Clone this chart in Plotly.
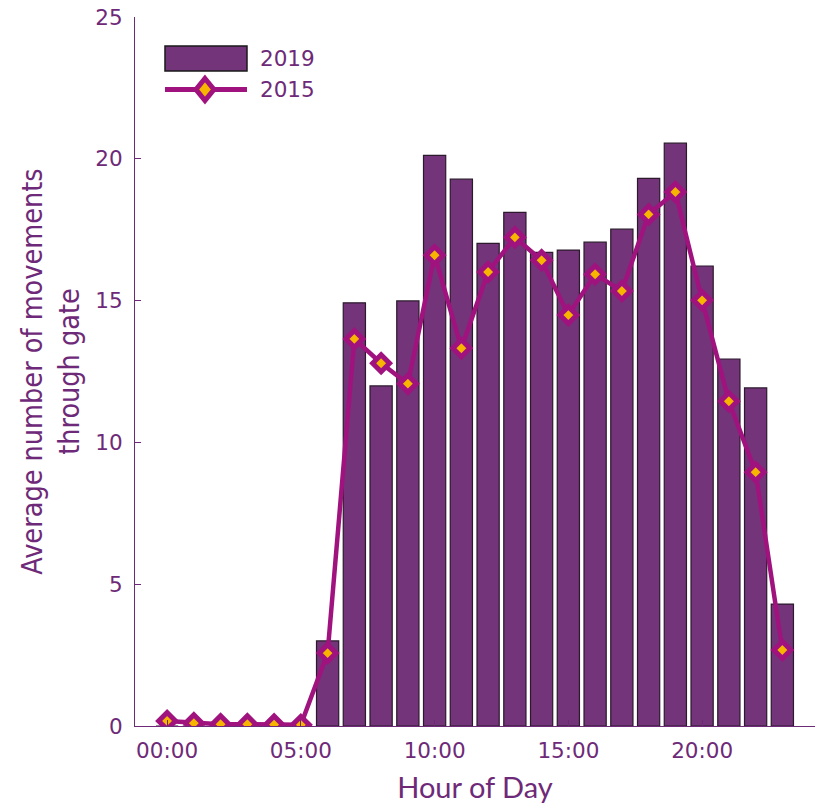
import plotly.graph_objects as go

hours = list(range(24))
tick_vals = [0, 5, 10, 15, 20]
tick_text = ["00:00", "05:00", "10:00", "15:00", "20:00"]

values_2019 = [0, 0, 0, 0, 0, 0, 3.0, 14.92, 11.99, 14.99, 20.12, 19.28, 17.02, 18.11,
               16.70, 16.78, 17.06, 17.52, 19.31, 20.55, 16.22, 12.94, 11.92, 4.30]
values_2015 = [0.18, 0.10, 0.06, 0.06, 0.05, 0.04, 2.57, 13.65, 12.79, 12.07, 16.60, 13.32,
               16.01, 17.23, 16.42, 14.49, 15.93, 15.34, 18.04, 18.83, 15.01, 11.45, 8.95, 2.68]

BAR = "#733479"
LINE = "#a0137f"
GOLD = "#f7b500"
TXT = "#6e2a78"
TICKFONT = dict(family="DejaVu Sans", size=21.5, color=TXT)

fig = go.Figure()
fig.add_trace(go.Bar(
    x=hours, y=values_2019, name="2019", width=0.83,
    marker=dict(color=BAR, line=dict(color="#2a1a2c", width=1.2)),
    showlegend=False,
))
fig.add_trace(go.Scatter(
    x=hours, y=values_2015, name="2015", mode="lines+markers",
    line=dict(color=LINE, width=4.5),
    marker=dict(symbol="diamond", size=13, color=GOLD, line=dict(color=LINE, width=5)),
    showlegend=False,
))

# custom legend (large swatches as in the reference)
fig.add_shape(type="rect", xref="paper", yref="paper", x0=0.0441, x1=0.1647, y0=0.9238, y1=0.9591,
              fillcolor=BAR, line=dict(color="#1a1a1a", width=1.5))
fig.add_shape(type="line", xref="paper", yref="paper", x0=0.0441, x1=0.1647, y0=0.8977, y1=0.8977,
              line=dict(color=LINE, width=5))
fig.add_shape(type="path", xref="paper", yref="paper",
              path="M 0.1029 0.9132 L 0.1161 0.8977 L 0.1029 0.8822 L 0.0897 0.8977 Z",
              fillcolor=GOLD, line=dict(color=LINE, width=5))
fig.add_annotation(xref="paper", yref="paper", x=0.181, y=0.942, text="2019", showarrow=False,
                   xanchor="left", yanchor="middle", font=TICKFONT)
fig.add_annotation(xref="paper", yref="paper", x=0.181, y=0.8977, text="2015", showarrow=False,
                   xanchor="left", yanchor="middle", font=TICKFONT)

fig.update_layout(
    width=816, height=804,
    margin=dict(l=135, r=1, t=17, b=78),
    plot_bgcolor="white", paper_bgcolor="white",
    xaxis=dict(
        range=[-1.2, 24.22], tickvals=tick_vals, ticktext=tick_text, automargin=False,
        showgrid=False, zeroline=False, showline=True, linecolor=TXT, linewidth=1.2,
        ticks="inside", ticklen=6, tickcolor=TXT, tickfont=TICKFONT, ticklabelstandoff=5,
        ticklabeloverflow="allow",
        title=dict(text="Hour of Day", font=dict(family="Lato", size=29, color=TXT), standoff=15),
    ),
    yaxis=dict(
        range=[0, 25], tickvals=[0, 5, 10, 15, 20, 25], automargin=False,
        showgrid=False, zeroline=False, showline=True, linecolor=TXT, linewidth=1.2,
        ticks="inside", ticklen=6, tickcolor=TXT, tickfont=TICKFONT, ticklabelstandoff=7,
        ticklabeloverflow="allow",
        title=dict(text="Average number of movements<br>through gate",
                   font=dict(family="DejaVu Sans Condensed", size=28.5, color=TXT), standoff=7),
    ),
)

fig.write_html("out.html", config={"displayModeBar": False},
               post_script="document.body.style.margin='0';")
